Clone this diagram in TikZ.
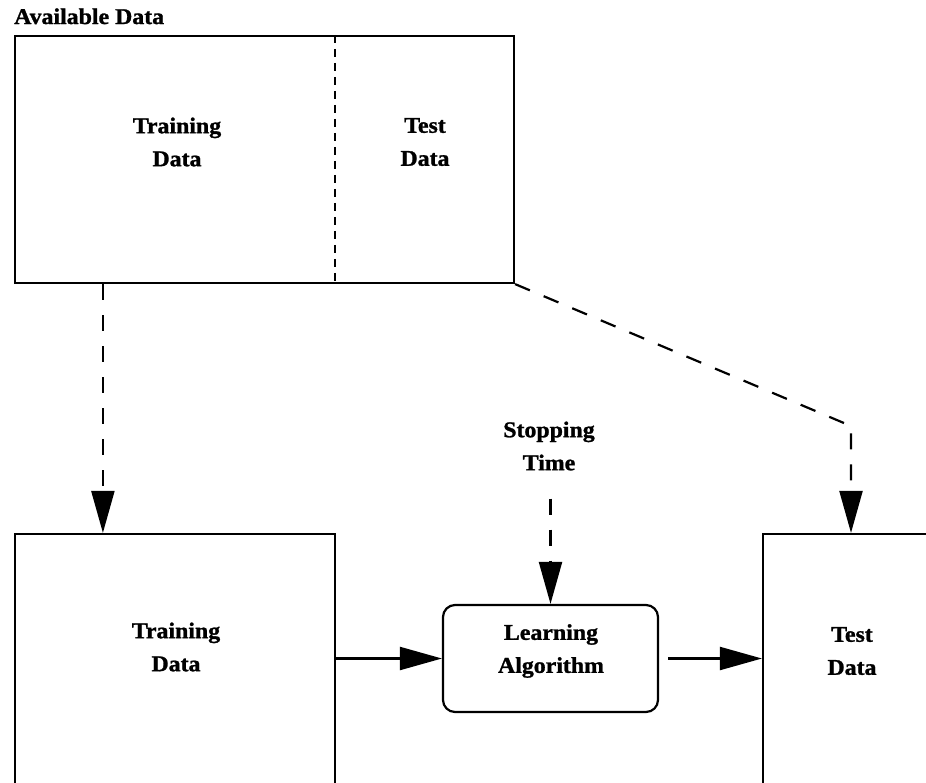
\documentclass[tikz,border=0pt]{standalone}
\usepackage{fontspec}
\setmainfont{Liberation Serif}[BoldFeatures={FakeStretch=1.06,FakeBold=1.2}]
\usetikzlibrary{arrows.meta}
\begin{document}
\begin{tikzpicture}[x=1pt,y=-1pt,
  every node/.style={font=\fontsize{22.5}{33}\selectfont\bfseries},
  databox/.style={draw, line width=2.2pt, inner sep=0pt, rectangle},
  lbl/.style={align=center, inner sep=0pt},
  flow/.style={line width=2.2pt, -{Triangle[length=42pt,width=23pt]}},
  dflow/.style={flow, dash pattern=on 16pt off 15pt},
]
\useasboundingbox (0,0) rectangle (926,782);
\clip (0,0) rectangle (926,782);

% the whole data set, split into training and test parts
\node[databox, minimum width=499pt, minimum height=247pt] (avail) at (264.5,159.5) {};
\node[anchor=base west, inner sep=0pt] (title) at (14,24) {Available Data};
\draw[line width=2pt, dash pattern=on 8pt off 6pt]
  ([xshift=321pt]avail.north west) -- ([xshift=321pt]avail.south west);
\node[lbl] (trainA) at (177,142) {Training\\Data};
\node[lbl] (testA) at (425,142) {Test\\Data};

% lower row: training set, learner, test set
\node[databox, minimum width=320pt, minimum height=252pt] (train) at (175,660) {};
\node[lbl] (trainB) at (176,647) {Training\\Data};

\node[databox, rounded corners=12pt, minimum width=215pt, minimum height=107pt] (learn) at (550.5,658.5) {};
\node[lbl] (learnT) at (551,651) {Learning\\Algorithm};

\node[databox, minimum width=176pt, minimum height=252pt] (test) at (851,660) {};
\node[lbl] (testB) at (852,651) {Test\\Data};

\node[lbl] (stop) at (549,446) {Stopping\\Time};

% connectors
\draw[dflow] ([xshift=89pt]avail.south west) -- ([xshift=89pt]train.north west);
\coordinate (bend) at (851,426);
\draw[dflow] (avail.south east) -- (bend) -- (test.north);
\draw[dflow, shorten <=28pt] (stop.south -| learn.north) -- (learn.north);
\draw[flow] (train.east |- learn.west) -- (learn.west);
\draw[flow, shorten <=9pt] (learn.east) -- (test.west |- learn.east);
\end{tikzpicture}
\end{document}
